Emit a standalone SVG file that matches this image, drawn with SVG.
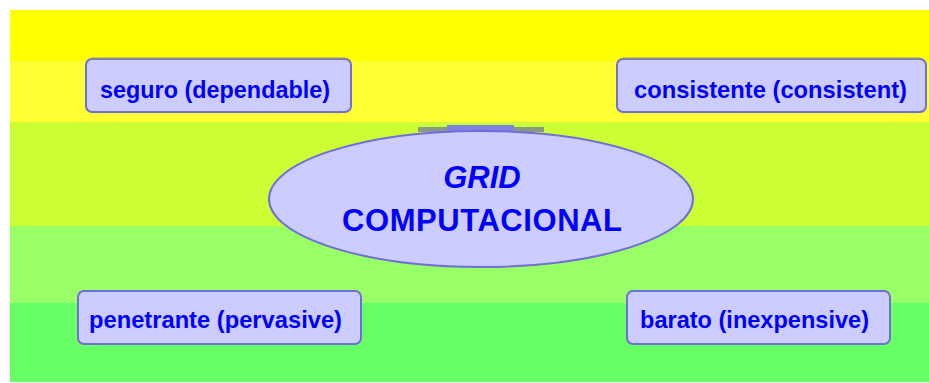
<svg xmlns="http://www.w3.org/2000/svg" width="929" height="383" viewBox="0 0 929 383">
<style>
.box{fill:#CCCCFF;stroke:#6f6fd8;stroke-width:2}
.shadow{fill:none;stroke:#8c8c8c;stroke-width:2}
.lbl{font-family:"Liberation Sans",Arial,sans-serif;font-weight:bold;font-size:24px;fill:#0000FF}
.big{font-family:"Liberation Sans",Arial,sans-serif;font-weight:bold;font-size:31px;fill:#0000FF;text-anchor:middle}
</style>
<rect x="0" y="0" width="929" height="383" fill="#FFFFFF"/>
<g id="background">
<rect x="10" y="10" width="919" height="51" fill="#FFFF00"/>
<rect x="10" y="61" width="919" height="61" fill="#FFFF33"/>
<rect x="10" y="122" width="919" height="104" fill="#CCFF33"/>
<rect x="10" y="226" width="919" height="77" fill="#99FF66"/>
<rect x="10" y="303" width="919" height="79" fill="#66FF66"/>
</g>
<g id="connectors"></g>
<g id="center">
<rect x="418" y="127" width="126" height="5" fill="#889988"/>
<rect x="447" y="125" width="67" height="7" fill="#8080E0"/>
<ellipse cx="481" cy="199" rx="212" ry="68" class="box"/>
<text x="482" y="188" class="big" font-style="italic">GRID</text>
<text x="482" y="231" class="big" font-size="30" textLength="280" lengthAdjust="spacing">COMPUTACIONAL</text>
</g>
<g id="seguro">
<rect x="86" y="59" width="265" height="53" rx="6" class="box"/>
<line x1="92" y1="58.5" x2="345" y2="58.5" class="shadow"/>
<text x="100" y="98" class="lbl" textLength="230" lengthAdjust="spacingAndGlyphs">seguro (dependable)</text>
</g>
<g id="consistente">
<rect x="617" y="59" width="309" height="53" rx="6" class="box"/>
<line x1="623" y1="58.5" x2="920" y2="58.5" class="shadow"/>
<text x="634" y="98" class="lbl" textLength="273" lengthAdjust="spacingAndGlyphs">consistente (consistent)</text>
</g>
<g id="penetrante">
<rect x="78" y="291" width="283" height="53" rx="6" class="box"/>
<text x="89" y="328" class="lbl" textLength="253" lengthAdjust="spacingAndGlyphs">penetrante (pervasive)</text>
</g>
<g id="barato">
<rect x="627" y="291" width="263" height="53" rx="6" class="box"/>
<text x="640" y="328" class="lbl" textLength="229" lengthAdjust="spacingAndGlyphs">barato (inexpensive)</text>
</g>
</svg>
